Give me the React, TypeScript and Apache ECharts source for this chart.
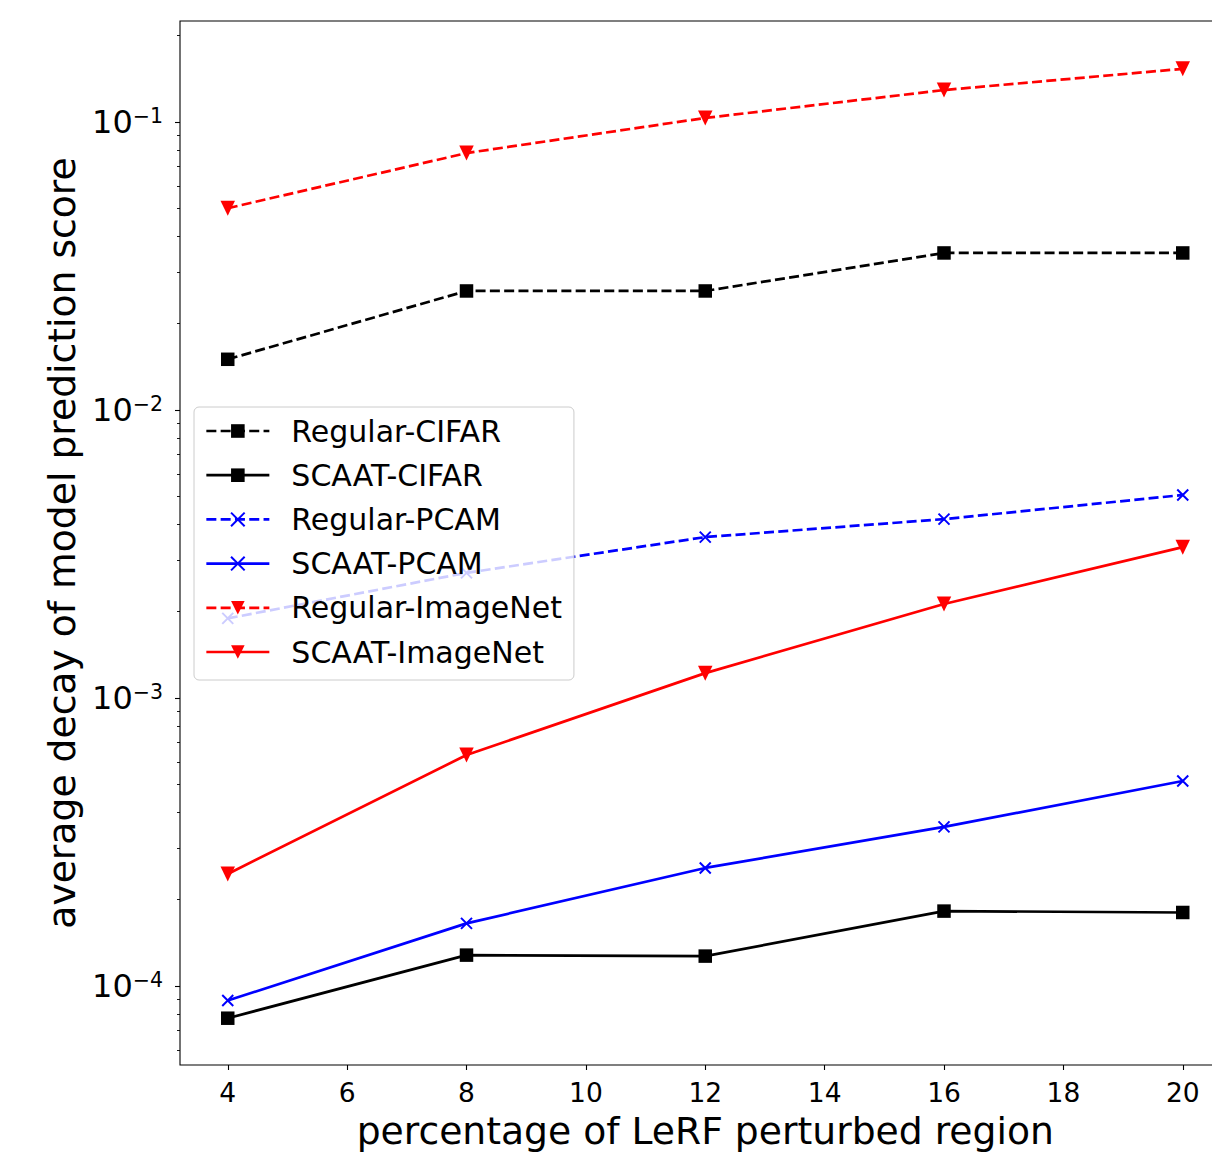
import React, { useEffect, useRef } from "react";
import * as echarts from "echarts";

const xValues = [4, 8, 12, 16, 20];
const regularCifar = [0.0150, 0.0259, 0.0259, 0.0351, 0.0351];
const scaatCifar = [7.73e-5, 1.28e-4, 1.27e-4, 1.82e-4, 1.80e-4];
const regularPcam = [1.89e-3, 2.72e-3, 3.62e-3, 4.18e-3, 5.07e-3];
const scaatPcam = [8.9e-5, 1.65e-4, 2.57e-4, 3.57e-4, 5.15e-4];
const regularImagenet = [0.0502, 0.078, 0.1033, 0.1291, 0.153];
const scaatImagenet = [2.45e-4, 6.34e-4, 1.22e-3, 2.12e-3, 3.34e-3];

const xTicks = [4, 6, 8, 10, 12, 14, 16, 18, 20];
const yTickExponents = [-4, -3, -2, -1];
const minorMantissas = [2, 3, 4, 5, 6, 7, 8, 9];
const minorDecades = [-5, -4, -3, -2, -1];

const X_MIN = 3.2;
const X_MAX = 20.8;
const Y_MIN = -4.2743;
const Y_MAX = -0.6493;

const FONT = "DejaVu Sans";
const DASH = [10, 4.3];
const X_PATH = "path://M0,0L10,10M0,10L10,0";

export default function App() {
  const ref = useRef<HTMLDivElement>(null);
  useEffect(() => {
    if (!ref.current) return;
    const chart = echarts.init(ref.current, null, { renderer: "svg" });
    const toPts = (vals: number[]) => vals.map((v, i) => [xValues[i], Math.log10(v)]);
    const minorTicks: number[] = [];
    minorDecades.forEach((d) =>
      minorMantissas.forEach((m) => {
        const v = Math.log10(m) + d;
        if (v >= Y_MIN && v <= Y_MAX) minorTicks.push(v);
      })
    );
    const mk = (
      name: string,
      vals: number[],
      color: string,
      dashed: boolean,
      symbol: string,
      size: any,
      rotate: number,
      stroke: boolean
    ) => ({
      name,
      type: "line",
      data: toPts(vals),
      symbol,
      symbolSize: size,
      symbolRotate: rotate,
      showSymbol: true,
      clip: false,
      lineStyle: { color, width: 2.7, type: dashed ? DASH : "solid" },
      itemStyle: stroke
        ? { color: "rgba(0,0,0,0)", borderColor: color, borderWidth: 2 }
        : { color, borderWidth: 0 },
      emphasis: { disabled: true },
    });
    chart.setOption({
      animation: false,
      grid: {
        left: 180,
        top: 21,
        width: 1050.5,
        height: 1044,
        outerBoundsMode: "none",
        containLabel: false,
        show: true,
        borderColor: "#000",
        borderWidth: 1.1,
        backgroundColor: "transparent",
      },
      legend: {
        left: 194,
        top: 407,
        orient: "vertical",
        itemWidth: 63,
        itemHeight: 17,
        itemGap: 14.2,
        padding: [9, 12, 13, 11],
        backgroundColor: "rgba(255,255,255,0.8)",
        borderColor: "#cccccc",
        borderWidth: 1,
        borderRadius: 5,
        lineStyle: { width: 2.7 },
        textStyle: {
          fontFamily: FONT,
          fontSize: 30,
          color: "#000",
          lineHeight: 30,
          padding: [0, 0, 0, 17],
        },
        data: [
          "Regular-CIFAR",
          "SCAAT-CIFAR",
          "Regular-PCAM",
          "SCAAT-PCAM",
          "Regular-ImageNet",
          "SCAAT-ImageNet",
        ],
      },
      xAxis: {
        type: "value",
        min: X_MIN,
        max: X_MAX,
        name: "percentage of LeRF perturbed region",
        nameLocation: "middle",
        nameGap: 47,
        nameTextStyle: { fontFamily: FONT, fontSize: 37.7, color: "#000" },
        axisLine: { show: false },
        splitLine: { show: false },
        axisTick: {
          show: true,
          customValues: xTicks,
          length: 5,
          lineStyle: { color: "#000", width: 1.1 },
        },
        axisLabel: {
          customValues: xTicks,
          margin: 14,
          fontFamily: FONT,
          fontSize: 26.5,
          color: "#000",
        },
      },
      yAxis: [
        {
          type: "value",
          min: Y_MIN,
          max: Y_MAX,
          position: "left",
          name: "average decay of model prediction score",
          nameLocation: "middle",
          nameGap: 88,
          nameRotate: 90,
          nameTextStyle: { fontFamily: FONT, fontSize: 37.7, color: "#000" },
          axisLine: { show: false },
          splitLine: { show: false },
          axisTick: {
            show: true,
            customValues: yTickExponents,
            length: 5,
            lineStyle: { color: "#000", width: 1.1 },
          },
          axisLabel: {
            customValues: yTickExponents,
            margin: 17,
            formatter: (v: number) => `{b|10}{s|\u2212${Math.round(-v)}}`,
            rich: {
              b: { fontFamily: FONT, fontSize: 32, color: "#000" },
              s: { fontFamily: FONT, fontSize: 20.5, color: "#000", padding: [0, 0, 13, 0] },
            },
          },
        },
        {
          type: "value",
          min: Y_MIN,
          max: Y_MAX,
          position: "left",
          axisLine: { show: false },
          splitLine: { show: false },
          axisLabel: { show: false },
          axisTick: {
            show: true,
            customValues: minorTicks,
            length: 3,
            lineStyle: { color: "#000", width: 0.9 },
          },
        },
      ],
      series: [
        mk("Regular-CIFAR", regularCifar, "#000000", true, "rect", 13.5, 0, false),
        mk("SCAAT-CIFAR", scaatCifar, "#000000", false, "rect", 13.5, 0, false),
        mk("Regular-PCAM", regularPcam, "#0000ff", true, X_PATH, 11, 0, true),
        mk("SCAAT-PCAM", scaatPcam, "#0000ff", false, X_PATH, 11, 0, true),
        mk("Regular-ImageNet", regularImagenet, "#ff0000", true, "triangle", [14.5, 15], 180, false),
        mk("SCAAT-ImageNet", scaatImagenet, "#ff0000", false, "triangle", [14.5, 15], 180, false),
      ],
    });
    return () => chart.dispose();
  }, []);
  return (
    <div
      style={{
        position: "fixed",
        left: 0,
        top: 0,
        width: 1212,
        height: 1152,
        overflow: "hidden",
        background: "#fff",
      }}
    >
      <div ref={ref} style={{ width: 1240, height: 1152 }} />
    </div>
  );
}
